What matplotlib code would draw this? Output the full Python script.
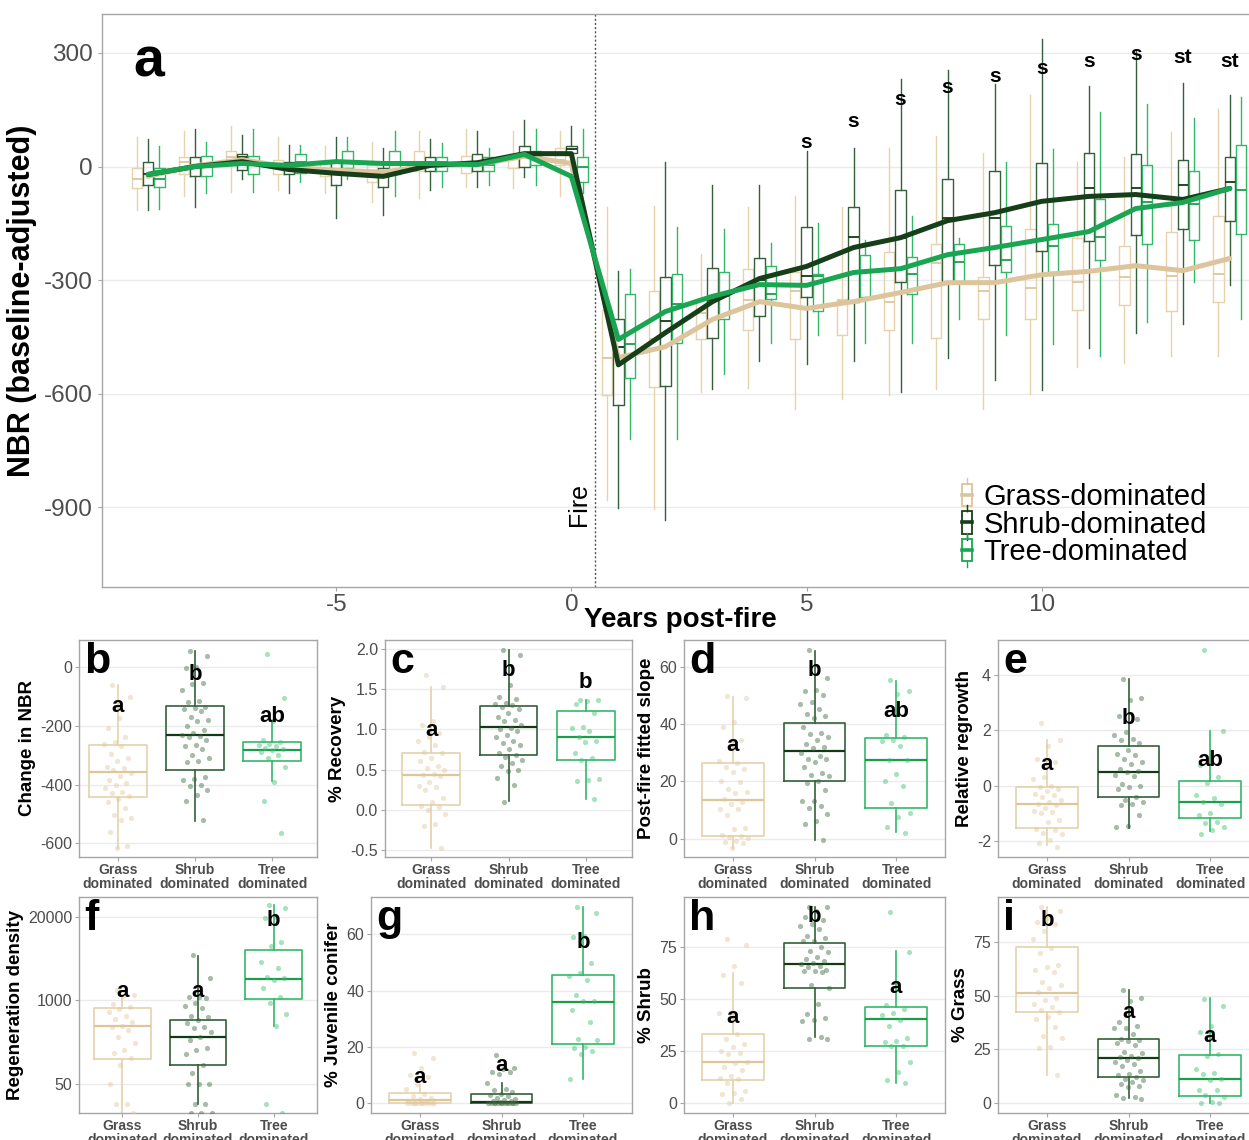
import numpy as np
import matplotlib
matplotlib.use("Agg")
import matplotlib.pyplot as plt
from matplotlib.legend_handler import HandlerBase
from matplotlib.patches import Rectangle
from matplotlib.lines import Line2D

plt.rcParams['font.family'] = ['Liberation Sans', 'DejaVu Sans']
plt.rcParams['axes.unicode_minus'] = False

# ---------------- Panel a: NBR por año ----------------
years = np.arange(-9, 15)
grupos = ["Grass-dominated", "Shrub-dominated", "Tree-dominated"]

grass_mean = [-26, 2, 18, -2, -10, -15, 3, 5, 27, 8,
              -505, -476, -404, -357, -375, -357, -333, -307, -307, -286, -277, -262, -275, -243]
shrub_mean = [-21, 0, 13, -8, -18, -26, 3, 10, 34, 34,
              -524, -439, -357, -296, -264, -214, -188, -143, -122, -92, -79, -74, -87, -58]
tree_mean = [-21, 0, 8, 3, 13, 8, 8, 5, 32, -26,
             -457, -383, -343, -312, -314, -280, -270, -233, -214, -193, -172, -111, -95, -58]

# cajas: whislo, q1, mediana, q3, whishi  (un valor por año)
grass_lo = [-116, -79, -66, -63, -69, -93, -82, -55, -58, -77,
            -880, -904, -597, -584, -640, -613, -605, -587, -640, -600, -530, -520, -500, -500]
grass_q1 = [-58, -21, 3, -21, -26, -40, -13, -18, -3, 5,
            -605, -582, -455, -433, -455, -444, -433, -452, -404, -402, -378, -367, -383, -359]
grass_med = [-32, 11, 24, 3, -8, -16, 11, 5, 21, 18,
             -505, -457, -386, -352, -330, -355, -359, -254, -330, -320, -306, -291, -288, -283]
grass_q3 = [-3, 24, 42, 16, 13, 3, 42, 29, 34, 50,
            -378, -328, -349, -272, -280, -349, -227, -206, -293, -164, -190, -209, -172, -132]
grass_hi = [77, 95, 108, 77, 53, 66, 93, 100, 93, 93,
            -106, -103, -230, -106, -79, -106, 50, 80, 37, 190, 13, 26, 90, 153]

shrub_lo = [-116, -106, -34, -69, -135, -129, -63, -53, -29, -10,
            -901, -933, -589, -515, -523, -515, -595, -505, -563, -590, -480, -439, -415, -312]
shrub_q1 = [-50, -26, -8, -21, -48, -53, -13, -11, 0, 37,
            -629, -579, -452, -394, -346, -359, -304, -307, -259, -222, -196, -182, -164, -143]
shrub_med = [-21, 0, 24, -8, -8, -21, 3, 11, 37, 45,
             -476, -407, -352, -299, -288, -185, -190, -135, -135, -92, -58, -58, -50, -42]
shrub_q3 = [11, 24, 34, 13, 11, -3, 24, 32, 53, 53,
            -404, -291, -267, -241, -161, -108, -63, -32, -11, 8, 37, 32, 16, 26]
shrub_hi = [74, 98, 82, 58, 79, 50, 74, 95, 122, 106,
            -275, 13, -50, -50, 40, 50, 230, 256, 217, 338, 214, 309, 222, 190]

tree_lo = [-111, -69, -66, -40, -34, -79, -55, -50, -48, -69,
           -719, -719, -547, -465, -444, -465, -465, -404, -444, -468, -500, -412, -304, -404]
tree_q1 = [-53, -26, -21, -18, -3, -21, -11, -13, 5, -42,
           -558, -465, -402, -349, -383, -346, -336, -307, -280, -280, -246, -204, -193, -177]
tree_med = [-32, 3, 3, 11, 13, 11, 11, 3, 24, 0,
            -468, -362, -343, -336, -290, -280, -283, -251, -248, -211, -185, -95, -100, -61]
tree_q3 = [-5, 29, 29, 34, 42, 42, 26, 24, 42, 26,
           -336, -283, -280, -262, -283, -235, -238, -204, -156, -151, -87, 5, -13, 58]
tree_hi = [53, 66, 98, 56, 79, 93, 61, 50, 98, 98,
           -270, -161, -166, -201, -148, -193, -130, -188, 11, 45, 145, 164, 127, 185]

sig_years = [5, 6, 7, 8, 9, 10, 11, 12, 13, 14]
sig_labels = ["s", "s", "s", "s", "s", "s", "s", "s", "st", "st"]
sig_y = [63, 119, 177, 209, 238, 259, 278, 296, 288, 278]

# ---------------- Paneles b-i ----------------
categorias = ["Grass\ndominated", "Shrub\ndominated", "Tree\ndominated"]

# b: Change in NBR
b_box = [[-614, -441, -357, -266, -62], [-523, -349, -230, -132, 54], [-387, -319, -281, -254, -189]]
b_grass = [-62, -104, -175, -207, -238, -255, -262, -268, -295, -310, -320, -340, -345, -352, -360, -372,
           -385, -395, -400, -410, -425, -430, -440, -448, -460, -478, -505, -515, -520, -560, -608, -615]
b_shrub = [55, 35, 0, -5, -55, -60, -80, -115, -120, -135, -140, -145, -150, -170, -180, -185, -200, -215,
           -225, -230, -235, -240, -250, -265, -270, -280, -300, -310, -320, -325, -375, -380, -385, -400,
           -405, -420, -435, -455, -520]
b_tree = [45, -105, -185, -250, -255, -262, -265, -270, -275, -280, -283, -290, -300, -310, -340, -390, -455, -565]
b_letras = ["a", "b", "ab"]
b_letras_y = [-134, -26, -168]

# c: % Recovery
c_box = [[-0.47, 0.06, 0.43, 0.70, 1.52], [0.11, 0.68, 1.03, 1.29, 1.98], [0.14, 0.62, 0.91, 1.23, 1.37]]
c_grass = [1.68, 1.52, 1.1, 1.05, 0.95, 0.9, 0.85, 0.8, 0.72, 0.7, 0.64, 0.6, 0.55, 0.52, 0.5, 0.45, 0.43,
           0.42, 0.35, 0.3, 0.28, 0.24, 0.15, 0.1, 0.05, 0.03, 0.0, -0.05, -0.18, -0.2, -0.47]
c_shrub = [1.99, 1.92, 1.55, 1.4, 1.38, 1.33, 1.32, 1.3, 1.28, 1.25, 1.2, 1.15, 1.12, 1.1, 1.05, 1.02, 1.0,
           0.98, 0.93, 0.9, 0.85, 0.83, 0.8, 0.75, 0.7, 0.68, 0.65, 0.62, 0.58, 0.55, 0.5, 0.48, 0.39, 0.31, 0.1]
c_tree = [1.36, 1.36, 1.35, 1.32, 1.2, 1.03, 1.02, 0.98, 0.9, 0.85, 0.84, 0.7, 0.64, 0.62, 0.38, 0.37, 0.36, 0.14]
c_letras = ["a", "b", "b"]
c_letras_y = [0.98, 1.73, 1.58]

# d: Post-fire fitted slope
d_box = [[-3.1, 0.9, 13.6, 26.4, 49.5], [-0.3, 20.0, 30.6, 40.2, 65.6], [2.3, 10.7, 27.4, 35.2, 55.0]]
d_grass = [49.6, 49.2, 40.8, 38.8, 34.4, 31.5, 27, 26.5, 25, 24.2, 23.4, 20.1, 19.6, 17.3, 16.4, 16, 13.7,
           12.8, 12, 10.4, 10.4, 8.1, 3.6, 3.4, 1.3, 1, 0.5, 0.1, -0.8, -1.3, -1.5, -3.2]
d_shrub = [65.8, 56, 52, 51.5, 50, 47.5, 47, 45.2, 43.5, 42.8, 42, 39, 37, 36.5, 35.5, 34.3, 33, 31.8, 31.5,
           30, 28.7, 27.8, 27.8, 26.7, 25, 23, 22.3, 22, 20, 19.4, 16.8, 13.3, 13, 11.3, 10.7, 8.7, 6, 5, -0.5]
d_tree = [55.2, 51.5, 50.5, 36.3, 35.5, 34.5, 34.0, 32.3, 27.5, 27.3, 22.7, 20, 18.2, 12.4, 9, 7.5, 4.1, 2.1]
d_letras = ["a", "b", "ab"]
d_letras_y = [32.4, 58.5, 44.5]

# e: Relative regrowth
e_box = [[-2.14, -1.51, -0.66, -0.04, 1.65], [-1.51, -0.42, 0.51, 1.43, 3.84], [-1.64, -1.18, -0.60, 0.18, 1.99]]
e_grass = [2.27, 1.65, 1.42, 0.95, 0.85, 0.3, 0.25, 0.0, -0.05, -0.1, -0.2, -0.3, -0.35, -0.4, -0.5, -0.6,
           -0.65, -0.7, -0.8, -0.9, -0.95, -1.0, -1.25, -1.3, -1.55, -1.6, -1.7, -1.75, -1.95, -2.05, -2.2]
e_shrub = [3.87, 3.15, 3.1, 2.5, 2.4, 1.95, 1.85, 1.7, 1.65, 1.55, 1.3, 1.15, 1.1, 0.95, 0.85, 0.8, 0.6, 0.55,
           0.5, 0.4, 0.35, 0.05, 0.0, -0.05, -0.1, -0.4, -0.5, -0.6, -0.65, -0.7, -1.05, -1.45, -1.5]
e_tree = [4.9, 1.97, 0.85, 0.75, 0.3, 0.1, -0.35, -0.45, -0.6, -0.65, -1.0, -1.05, -1.3, -1.35, -1.5, -1.6, -1.75]
e_letras = ["a", "b", "ab"]
e_letras_y = [0.75, 2.43, 0.93]

# f: Regeneration density (escala log)
f_box = [[18, 123, 400, 769, 1143], [25, 99, 273, 495, 4900], [400, 1038, 2175, 6070, 30200]]
f_grass = [1450, 1210, 1170, 870, 800, 750, 670, 570, 525, 470, 400, 390, 345, 275, 220, 170, 155, 126, 99,
           50, 25, 25, 18]
f_shrub = [5070, 2200, 1140, 1115, 1085, 900, 818, 752, 571, 560, 495, 450, 390, 368, 326, 273, 242, 180,
           173, 150, 99, 75, 50, 50, 50, 25, 25, 18, 18, 18]
f_tree = [30300, 26900, 20000, 19300, 7980, 7000, 4000, 3150, 2280, 2200, 2080, 1540, 1140, 900, 614, 400, 25, 18]
f_letras = ["a", "a", "b"]
f_letras_y = [1397, 1397, 17750]

# g: % Juvenile conifer
g_box = [[0, 0, 1.2, 3.6, 6.7], [0, 0.1, 0.5, 3.2, 7.3], [8.5, 21.1, 36.1, 45.4, 69.8]]
g_grass = [17.8, 16, 12.5, 10, 9.5, 7, 5, 3.5, 2.5, 2, 1.5, 1, 0.5, 0.3, 0, 0, 0, 0, 0, 0, 0, 0, 0, 0]
g_shrub = [17.3, 12.5, 12.3, 11.2, 11, 10.5, 7.2, 5, 4.8, 4, 3.5, 3, 2.5, 2, 1.5, 1.3, 1, 0.8, 0.5, 0.3, 0.2,
           0, 0, 0, 0, 0, 0, 0, 0, 0, 0, 0]
g_tree = [69.8, 67.5, 59.5, 59, 49.9, 46.1, 45.2, 43.8, 38.6, 36.2, 36.2, 33, 28.7, 23, 22.6, 20, 19.5, 18.6,
          17.4, 8.6]
g_letras = ["a", "a", "b"]
g_letras_y = [9.1, 13.3, 57.2]

# h: % Shrub
h_box = [[0, 11.2, 19.9, 33.0, 62.5], [31.9, 55.0, 66.5, 76.6, 94.1], [9.9, 27.6, 40.2, 46.0, 72.9]]
h_grass = [78.5, 76, 66, 61.5, 57.5, 43.5, 43.5, 33, 31, 28.5, 27, 25, 24, 23.5, 20, 19.5, 17.5, 16, 13, 12,
           11.5, 10, 6, 5, 4.5, 2, 0]
h_shrub = [94, 94, 92, 89, 88, 86, 85, 83.5, 80, 79, 77.5, 77.5, 75, 73, 72.5, 70, 69, 68, 67, 66.5, 66, 65.5,
           64, 63.5, 63.5, 63, 56.5, 55, 47.5, 43, 41, 40, 39.5, 32, 31, 31]
h_tree = [91.5, 72.5, 57.5, 47, 45, 43.5, 42.5, 40, 37, 31.5, 30, 29.5, 27.5, 27.5, 20, 15, 11, 10]
h_letras = ["a", "b", "a"]
h_letras_y = [41, 89.7, 55.4]

# i: % Grass
i_box = [[13.1, 42.2, 51.0, 72.4, 91.2], [2.3, 12.4, 21.2, 29.8, 52.6], [0, 3.4, 11.1, 22.6, 48.7]]
i_grass = [91, 89, 86, 84, 83, 80, 76, 72, 69.5, 64, 63, 62, 61, 56.5, 55, 53.5, 51.5, 49, 48, 46, 44.5, 43.5,
           42.5, 40, 39, 35.5, 31, 30.5, 26, 25.5, 13]
i_shrub = [52.6, 49, 47.5, 37.5, 36, 35, 35, 32, 30, 29.5, 29, 28, 27, 24, 23.5, 22, 21.5, 21, 20, 19, 18,
           17.5, 15, 13.5, 13, 12, 11.5, 11, 10, 9, 8, 7.5, 4, 3, 2.5, 2]
i_tree = [48.5, 45, 36, 33, 23, 22, 16, 14, 13.5, 11.5, 11, 6, 6, 4, 3, 0.5, 0, 0]
i_letras = ["b", "a", "a"]
i_letras_y = [84.6, 42.2, 31.2]

# ---------------- Estilos ----------------
W, H = 1249, 1140
COL_LINEA = ["#DCC59C", "#163E19", "#19A552"]
COL_CAJA = ["#E6D2AC", "#33603A", "#33B868"]
COL_MED = ["#DEC69B", "#123A14", "#1A9E4C"]
COL_PUNTO = ["#E0C89E", "#3C6A40", "#3CBF72"]
GRIS_TXT = "#4D4D4D"
GRIS_BORDE = "#A6A6A6"
GRIS_GRID = "#EBEBEB"

fig = plt.figure(figsize=(W / 100, H / 100), dpi=100)


def ejes_px(izq, arr, der, aba):
    return fig.add_axes([izq / W, 1 - aba / H, (der - izq) / W, (aba - arr) / H])


def estilo(ax, tam_tick):
    for s in ax.spines.values():
        s.set_color(GRIS_BORDE)
        s.set_linewidth(1.0)
    ax.tick_params(colors=GRIS_BORDE, labelcolor=GRIS_TXT, labelsize=tam_tick, length=3, width=0.8)
    ax.grid(axis="y", color=GRIS_GRID, linewidth=1.0)
    ax.set_axisbelow(True)


def stats_de(lo, q1, med, q3, hi):
    return [dict(whislo=a, q1=b, med=c, q3=d, whishi=e) for a, b, c, d, e in zip(lo, q1, med, q3, hi)]


# ---------------- Panel a ----------------
ax = ejes_px(102, 14, 1258, 587)
estilo(ax, 17.5)
ax.tick_params(axis="x", pad=2)
cajas = [stats_de(grass_lo, grass_q1, grass_med, grass_q3, grass_hi),
         stats_de(shrub_lo, shrub_q1, shrub_med, shrub_q3, shrub_hi),
         stats_de(tree_lo, tree_q1, tree_med, tree_q3, tree_hi)]
medias = [grass_mean, shrub_mean, tree_mean]
for k, off in enumerate([-0.24, 0.0, 0.24]):
    c = COL_CAJA[k]
    ax.bxp(cajas[k], positions=years + off, widths=0.22, showfliers=False, showcaps=False,
           boxprops=dict(color=c, linewidth=1.0), whiskerprops=dict(color=c, linewidth=1.0),
           medianprops=dict(color=COL_MED[k], linewidth=1.3), manage_ticks=False)
for k in range(3):
    ax.plot(years, medias[k], color=COL_LINEA[k], linewidth=3.6, zorder=5, solid_capstyle="round")

ax.axvline(0.5, color="#555555", linestyle=(0, (1.5, 1.5)), linewidth=1.0)
ax.text(0.42, -893, "Fire", rotation=90, ha="right", va="center", fontsize=18)
for xx, lab, yy in zip(sig_years, sig_labels, sig_y):
    ax.text(xx, yy, lab, ha="center", va="center", fontsize=15, fontweight="bold")

ax.set_xlim(-9.98, 14.6)
ax.set_ylim(-1111, 403)
ax.set_xticks([-5, 0, 5, 10])
ax.set_yticks([300, 0, -300, -600, -900])
ax.set_xlabel("Years post-fire", fontsize=20, fontweight="bold")
ax.xaxis.set_label_coords(0.5, -0.035)
ax.set_ylabel("NBR (baseline-adjusted)", fontsize=22, fontweight="bold")
ax.yaxis.set_label_coords(-0.056, 0.5)
ax.text(0.027, 0.96, "a", transform=ax.transAxes, ha="left", va="top", fontsize=40, fontweight="bold")


class HandlerCaja(HandlerBase):
    def create_artists(self, legend, orig_handle, xdescent, ydescent, width, height, fontsize, trans):
        col = orig_handle.get_color()
        cx = width / 2 - xdescent
        bw = width * 0.75
        y0 = -ydescent - height * 0.05
        y1 = -ydescent + height * 1.05
        caja = Rectangle((cx - bw / 2, y0), bw, y1 - y0, fill=False, edgecolor=col, linewidth=1.3,
                         transform=trans)
        med = Line2D([cx - bw / 2, cx + bw / 2], [(y0 + y1) / 2] * 2, color=col, linewidth=2.6, transform=trans)
        w1 = Line2D([cx, cx], [y1, y1 + height * 0.3], color=col, linewidth=1.0, transform=trans)
        w2 = Line2D([cx, cx], [y0, y0 - height * 0.3], color=col, linewidth=1.0, transform=trans)
        return [caja, med, w1, w2]


manejadores = [Line2D([], [], color=c) for c in COL_LINEA]
leg = fig.legend(manejadores, grupos, loc="upper left", bbox_to_anchor=(934 / W, 1 - 457 / H),
                 frameon=False, fontsize=21, handlelength=0.45, handletextpad=0.35, labelspacing=-0.02,
                 handler_map={Line2D: HandlerCaja()})

# ---------------- Paneles b-i ----------------
paneles = [
    ("b", (79, 640, 317, 857), (0.5, 3.58), b_box, [b_grass, b_shrub, b_tree], b_letras, b_letras_y,
     (-646, 91), [0, -200, -400, -600], None, "Change in NBR", False),
    ("c", (385, 640, 632, 857), (0.4, 3.6), c_box, [c_grass, c_shrub, c_tree], c_letras, c_letras_y,
     (-0.587, 2.11), [-0.5, 0.0, 0.5, 1.0, 1.5, 2.0], ["-0.5", "0.0", "0.5", "1.0", "1.5", "2.0"],
     "% Recovery", False),
    ("d", (684, 640, 945, 857), (0.4, 3.6), d_box, [d_grass, d_shrub, d_tree], d_letras, d_letras_y,
     (-6.4, 69.3), [0, 20, 40, 60], None, "Post-fire fitted slope", False),
    ("e", (998, 640, 1259, 857), (0.4, 3.6), e_box, [e_grass, e_shrub, e_tree], e_letras, e_letras_y,
     (-2.57, 5.26), [-2, 0, 2, 4], None, "Relative regrowth", False),
    ("f", (79, 897, 317, 1113), (0.43, 3.57), f_box, [f_grass, f_shrub, f_tree], f_letras, f_letras_y,
     (17.9, 40450), [50, 1000, 20000], ["50", "1000", "20000"], "Regeneration density", True),
    ("g", (371, 897, 632, 1113), (0.4, 3.6), g_box, [g_grass, g_shrub, g_tree], g_letras, g_letras_y,
     (-3.4, 73.2), [0, 20, 40, 60], None, "% Juvenile conifer", False),
    ("h", (684, 897, 945, 1113), (0.4, 3.6), h_box, [h_grass, h_shrub, h_tree], h_letras, h_letras_y,
     (-4.6, 98.8), [0, 25, 50, 75], None, "% Shrub", False),
    ("i", (998, 897, 1259, 1113), (0.4, 3.6), i_box, [i_grass, i_shrub, i_tree], i_letras, i_letras_y,
     (-4.5, 95.7), [0, 25, 50, 75], None, "% Grass", False),
]

for tag, caja_px, xl, caja, puntos, letras, letras_y, yl, yt, ytl, ylab, es_log in paneles:
    ax = ejes_px(*caja_px)
    estilo(ax, 11.5)
    ax.tick_params(axis="x", pad=1.5)
    ax.tick_params(axis="y", pad=2)
    if es_log:
        ax.set_yscale("log")
    for k in range(3):
        lo, q1, med, q3, hi = caja[k]
        ax.bxp([dict(whislo=lo, q1=q1, med=med, q3=q3, whishi=hi)], positions=[k + 1], widths=0.75,
               showfliers=False, showcaps=False,
               boxprops=dict(color=COL_CAJA[k], linewidth=1.2),
               whiskerprops=dict(color=COL_CAJA[k], linewidth=1.2),
               medianprops=dict(color=COL_MED[k], linewidth=1.6), manage_ticks=False)
        vals = np.array(puntos[k], dtype=float)
        n = len(vals)
        jit = ((np.arange(n) * 0.618034 + 0.31) % 1 - 0.5) * 0.36
        ax.scatter(k + 1 + jit, vals, s=14, color=COL_PUNTO[k], alpha=0.45, linewidths=0, zorder=3)
        ax.text(k + 1, letras_y[k], letras[k], ha="center", va="center", fontsize=16, fontweight="bold",
                zorder=6)
    ax.set_xlim(*xl)
    ax.set_ylim(*yl)
    ax.set_yticks(yt)
    if ytl is not None:
        ax.set_yticklabels(ytl)
    ax.minorticks_off()
    ax.set_xticks([1, 2, 3])
    ax.set_xticklabels(categorias, fontsize=10, fontweight="bold", color=GRIS_TXT, linespacing=1.0)
    ax.set_ylabel(ylab, fontsize=13.5, fontweight="bold", labelpad=3)
    ax.text(0.02, 0.99, tag, transform=ax.transAxes, ha="left", va="top", fontsize=31, fontweight="bold",
            zorder=7)

fig.savefig("out.png", dpi=100)
